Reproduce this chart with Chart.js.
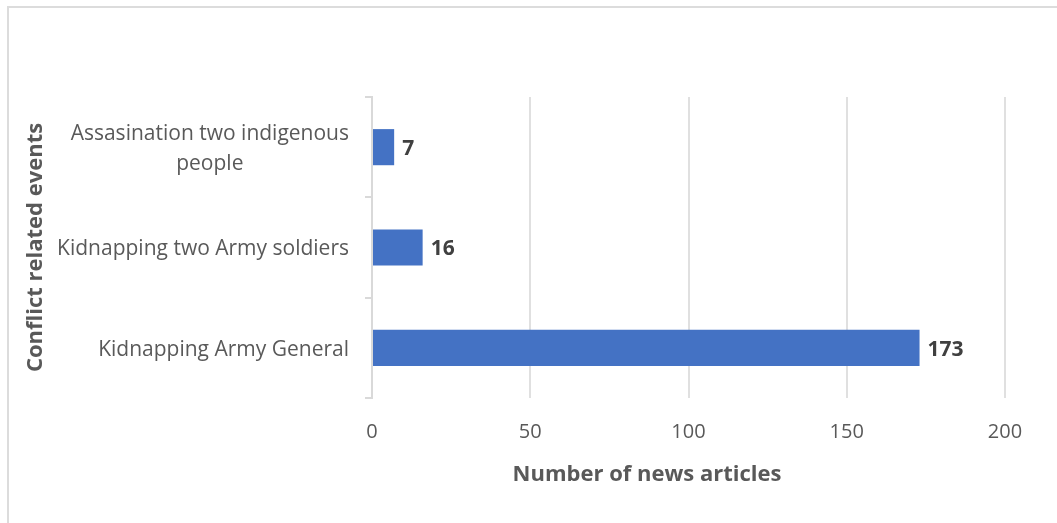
<!DOCTYPE html>
<html>
<head>
<meta charset="utf-8">
<script src="https://cdn.jsdelivr.net/npm/chart.js@4/dist/chart.umd.min.js"></script>
<style>
    html, body { margin: 0; padding: 0; background: #ffffff; }
    #wrap { position: relative; width: 1057px; height: 523px; overflow: hidden; }
    #frame { position: absolute; left: 7px; top: 6px; right: -10px; bottom: -10px; border-left: 2px solid #dcdcdc; border-top: 2px solid #dcdcdc; }
    #eventsChart { position: absolute; left: 0; top: 0; }
</style>
</head>
<body>
<div id="wrap">
    <div id="frame"></div>
    <canvas id="eventsChart" width="1057" height="523"></canvas>
</div>
<script>
// Conflict related events and how many news articles covered each
const events = [
    ['Assasination two indigenous', 'people'],
    ['Kidnapping two Army soldiers'],
    ['Kidnapping Army General']
];
const articleCounts = [7, 16, 173];
const xTicks = [0, 50, 100, 150, 200];
const xTitle = 'Number of news articles';

const labelFont = '"Open Sans", sans-serif';
const textGrey = '#595959';

// Category labels: each label right-aligned to the axis, lines centred within it
const categoryLabels = {
    id: 'categoryLabels',
    afterDraw(chart) {
        const ctx = chart.ctx;
        const yScale = chart.scales.y;
        const rightEdge = yScale.right - 7 - 16;
        const lineHeight = 30;
        ctx.save();
        ctx.font = '21px ' + labelFont;
        ctx.fillStyle = textGrey;
        ctx.textAlign = 'center';
        ctx.textBaseline = 'middle';
        events.forEach((lines, i) => {
            const widest = Math.max(...lines.map(l => ctx.measureText(l).width));
            const cx = rightEdge - widest / 2;
            const cy = yScale.getPixelForValue(i) + 2;
            const startY = cy - (lines.length - 1) * lineHeight / 2;
            lines.forEach((line, j) => {
                ctx.fillText(line, cx, startY + j * lineHeight);
            });
        });

        // x axis title sits a little left of the plot centre
        ctx.font = 'bold 22px ' + labelFont;
        ctx.fillText(xTitle, 647, 475);
        ctx.restore();
    }
};

// Value labels at the end of each bar
const valueLabels = {
    id: 'valueLabels',
    afterDatasetsDraw(chart) {
        const ctx = chart.ctx;
        const meta = chart.getDatasetMeta(0);
        ctx.save();
        ctx.font = 'bold 21px ' + labelFont;
        ctx.fillStyle = '#404040';
        ctx.textAlign = 'left';
        ctx.textBaseline = 'middle';
        meta.data.forEach((bar, i) => {
            ctx.fillText(String(articleCounts[i]), bar.x + 8, bar.y + 2);
        });
        ctx.restore();
    }
};

const ctx = document.getElementById('eventsChart').getContext('2d');
new Chart(ctx, {
    type: 'bar',
    data: {
        labels: events.map(l => l.join(' ')),
        datasets: [{
            label: xTitle,
            data: articleCounts,
            backgroundColor: '#4472c4',
            borderWidth: 0,
            categoryPercentage: 1,
            barPercentage: 0.36
        }]
    },
    options: {
        indexAxis: 'y',
        responsive: false,
        animation: false,
        layout: {
            padding: { left: 20, top: 97, right: 52, bottom: 0 }
        },
        plugins: {
            legend: { display: false },
            tooltip: { enabled: false }
        },
        scales: {
            x: {
                min: 0,
                max: 200,
                afterBuildTicks: scale => {
                    scale.ticks = xTicks.map(v => ({ value: v }));
                },
                afterFit: scale => { scale.height = 125; },
                grid: { color: '#e0e0e0', lineWidth: 2, drawTicks: false },
                border: { display: false },
                ticks: {
                    color: textGrey,
                    font: { family: labelFont, size: 20 },
                    padding: 22
                }
            },
            y: {
                afterFit: scale => { scale.width = 352; },
                grid: {
                    drawOnChartArea: false,
                    drawTicks: true,
                    tickLength: 7,
                    color: '#d9d9d9',
                    lineWidth: 2,
                    offset: true
                },
                border: { color: '#d9d9d9', width: 2 },
                ticks: { display: false },
                title: {
                    display: true,
                    text: 'Conflict related events',
                    color: textGrey,
                    font: { family: labelFont, size: 22, weight: 'bold' },
                    padding: { top: 3, bottom: 0 }
                }
            }
        }
    },
    plugins: [categoryLabels, valueLabels]
});
</script>
</body>
</html>
